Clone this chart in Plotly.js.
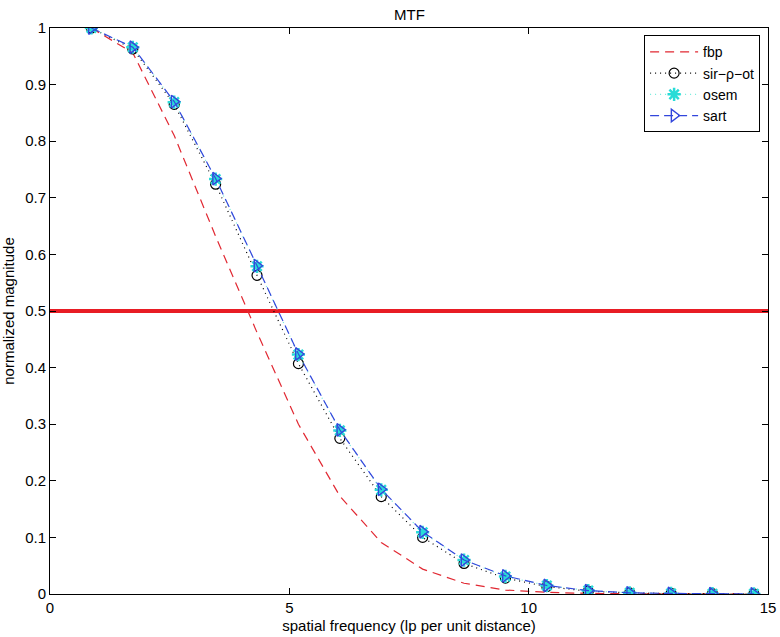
<!DOCTYPE html>
<html>
<head>
<meta charset="utf-8">
<script src="https://cdn.plot.ly/plotly-3.0.1.min.js"></script>
<style>html,body{margin:0;padding:0;background:#fff}#chart{width:780px;height:637px}</style>
</head>
<body>
<div id="chart"></div>
<script>
// spatial frequency samples
const freq = [0.865, 1.73, 2.595, 3.46, 4.325, 5.19, 6.055, 6.92, 7.785, 8.65, 9.515, 10.38, 11.245, 12.11, 12.975, 13.84, 14.705];
const fbp  = [1.0, 0.956, 0.81, 0.632, 0.462, 0.300, 0.173, 0.091, 0.044, 0.019, 0.007, 0.003, 0.001, 0.0005, 0.0002, 0.0001, 0];
const sirPot = [1.0, 0.963, 0.865, 0.724, 0.563, 0.407, 0.275, 0.172, 0.100, 0.054, 0.028, 0.013, 0.005, 0.002, 0.001, 0.0005, 0.0002];
const osem = [1.0, 0.966, 0.869, 0.733, 0.579, 0.423, 0.289, 0.184, 0.109, 0.060, 0.031, 0.015, 0.006, 0.002, 0.001, 0.0005, 0.0002];
const sart = [1.0, 0.966, 0.870, 0.734, 0.580, 0.424, 0.290, 0.185, 0.110, 0.060, 0.032, 0.015, 0.006, 0.002, 0.001, 0.0005, 0.0002];
const halfX = [0, 15];
const halfY = [0.5, 0.5];
const yTicks = [0, 0.1, 0.2, 0.3, 0.4, 0.5, 0.6, 0.7, 0.8, 0.9, 1];
const yTickText = ['0', '0.1', '0.2', '0.3', '0.4', '0.5', '0.6', '0.7', '0.8', '0.9', '1'];
const xTicks = [0, 5, 10, 15];

const FONT = 'Liberation Sans, Arial, Helvetica, sans-serif';

const traces = [
  {x: halfX, y: halfY, mode: 'lines', line: {color: 'rgb(232,28,36)', width: 4}, showlegend: false, hoverinfo: 'skip'},
  {x: freq, y: fbp, name: 'fbp', mode: 'lines', line: {color: 'rgb(225,40,50)', width: 1.2, dash: '9px,6px'}},
  {x: freq, y: sirPot, name: 'sir\u2212\u03c1\u2212ot', mode: 'lines+markers', line: {color: 'black', width: 1.2, dash: '1px,4px'},
   marker: {symbol: 'circle-open', size: 10, color: 'black', line: {width: 1.2}}},
  {x: freq, y: osem, name: 'osem', mode: 'lines+markers', line: {color: 'rgb(110,235,220)', width: 1.2, dash: '1px,4px'},
   marker: {symbol: 'asterisk-open', size: 11, color: 'rgb(40,220,215)', line: {width: 2.5, color: 'rgb(40,220,215)'}}},
  {x: freq, y: sart, name: 'sart', mode: 'lines+markers', line: {color: 'rgb(50,70,220)', width: 1.2, dash: '9px,5px'},
   marker: {symbol: 'triangle-right-open', size: 11, color: 'rgb(50,70,220)', line: {width: 1.4}}}
];

const layout = {
  width: 780, height: 637,
  margin: {l: 50, r: 12, t: 27.5, b: 43},
  paper_bgcolor: 'white', plot_bgcolor: 'white',
  font: {family: FONT, size: 15, color: 'black'},
  title: {text: 'MTF', font: {family: FONT, size: 15, color: 'black'}, x: 0.525, xanchor: 'center', y: 0.985, yanchor: 'top'},
  xaxis: {
    range: [0, 15], tickvals: xTicks, ticktext: xTicks.map(String),
    ticks: 'inside', ticklen: 6, tickwidth: 1, tickcolor: 'black',
    showline: true, linecolor: 'black', linewidth: 1, mirror: 'allticks',
    showgrid: false, zeroline: false,
    tickfont: {family: FONT, size: 15},
    title: {text: 'spatial frequency (lp per unit distance)', font: {family: FONT, size: 15}, standoff: 5}
  },
  yaxis: {
    range: [0, 1], tickvals: yTicks, ticktext: yTickText,
    ticks: 'inside', ticklen: 6, tickwidth: 1, tickcolor: 'black',
    showline: true, linecolor: 'black', linewidth: 1, mirror: 'allticks',
    showgrid: false, zeroline: false,
    tickfont: {family: FONT, size: 15},
    title: {text: 'normalized magnitude', font: {family: FONT, size: 15}, standoff: 9}
  },
  legend: {
    x: 0.989, xanchor: 'right', y: 0.987, yanchor: 'top',
    bgcolor: 'white', bordercolor: 'black', borderwidth: 1,
    font: {family: FONT, size: 14}, tracegroupgap: 0, itemwidth: 48
  },
  showlegend: true
};

Plotly.newPlot('chart', traces, layout, {displayModeBar: false, staticPlot: true});
</script>
</body>
</html>
